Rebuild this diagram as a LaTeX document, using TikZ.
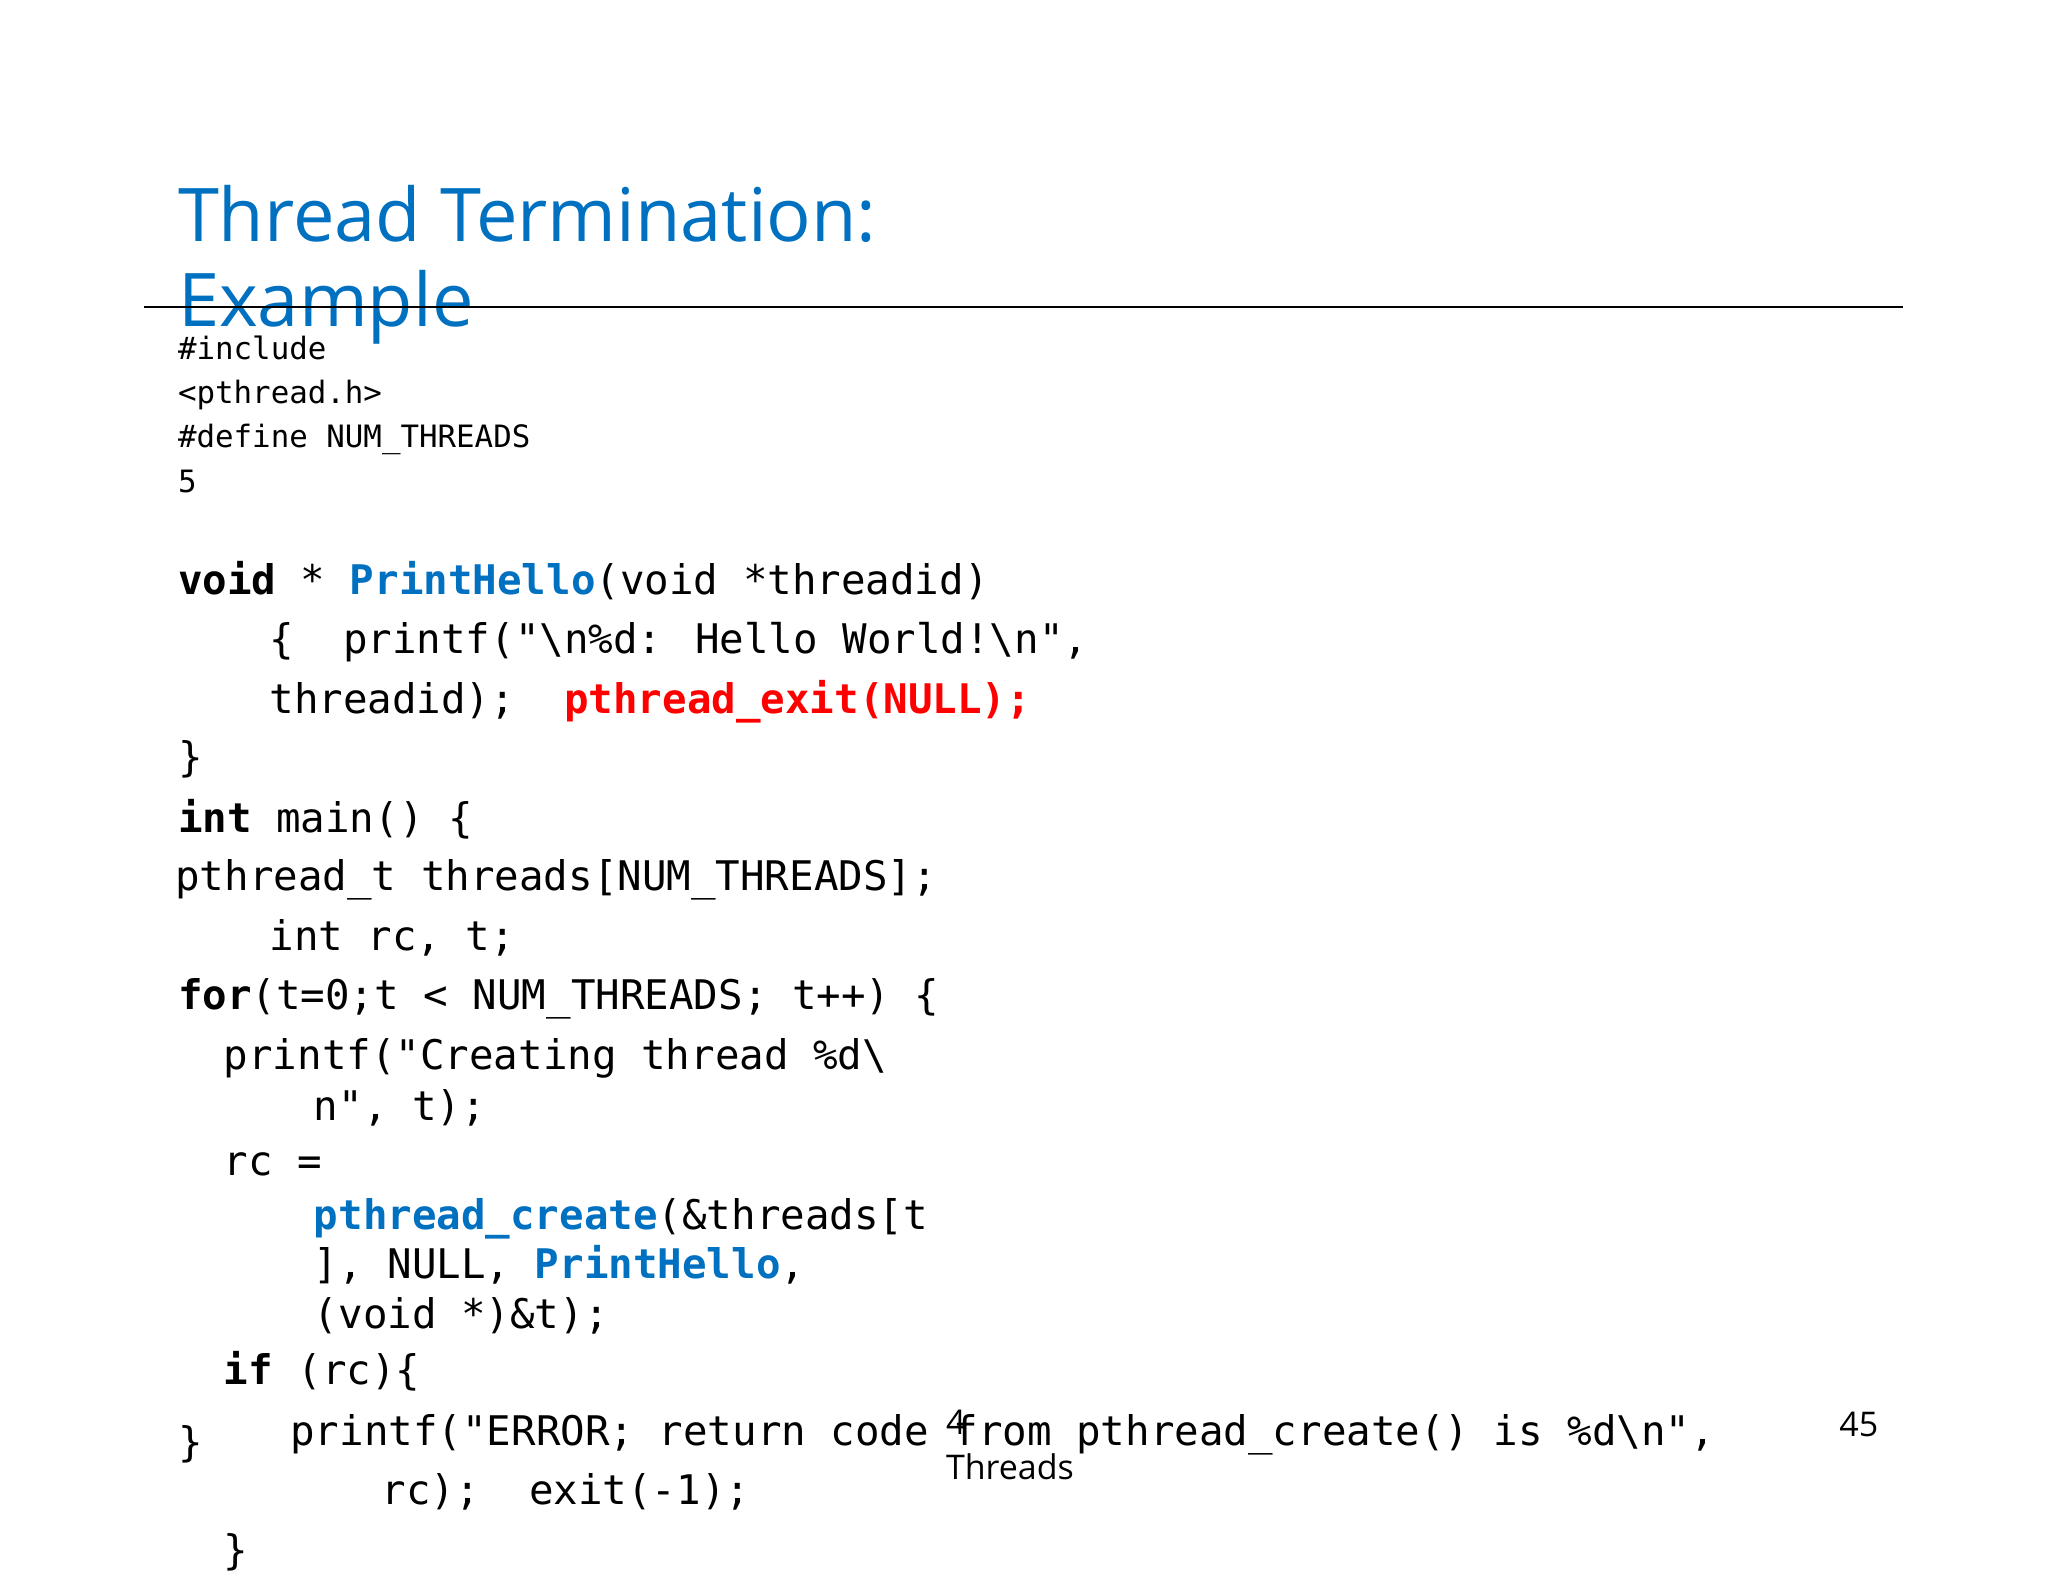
\documentclass[tikz,border=0pt]{standalone}
\usepackage{fontspec}
\setmainfont{Open Sans}
\newfontfamily\code{DejaVu Sans Mono}
\definecolor{tblue}{HTML}{0070C0}
\definecolor{tred}{HTML}{FF0000}
\begin{document}
\begin{tikzpicture}[x=0.653pt,y=-0.653pt,
  t/.style={anchor=base west,inner sep=0pt},
  big/.style={t,font=\code\fontsize{20.4pt}{24pt}\selectfont},
  small/.style={t,font=\code\fontsize{15.4pt}{18pt}\selectfont}]
\useasboundingbox[fill=white] (0,0) rectangle (1568,1211.5);
\node[t,text=tblue,font=\fontsize{37pt}{42pt}\selectfont] (t1) at (136,185) {Thread Termination:};
\node[t,text=tblue,font=\fontsize{37pt}{42pt}\selectfont] (t2) at (136,250) {Example};
\draw[line width=1pt] (110,235) -- (1457,235);
\node[small] (a1) at (136,275) {\#include};
\node[small] (a2) at (136,309) {<pthread.h>};
\node[small] (a3) at (136,343) {\#define NUM\_THREADS};
\node[small] (a4) at (136,377) {5};
\node[big] (b1) at (136,455) {\textbf{void} * \textcolor{tblue}{\textbf{PrintHello}}(void *threadid)};
\node[big] (b2) at (206,500) {\{~ printf("\textbackslash n\%d: Hello World!\textbackslash n",};
\node[big] (b3) at (206,546) {threadid);~ \textcolor{tred}{\textbf{pthread\_exit(NULL);}}};
\node[big] (b4) at (136,591) {\}};
\node[big] (b5) at (136,637) {\textbf{int} main() \{};
\node[big] (b6) at (134,682) {pthread\_t threads[NUM\_THREADS];};
\node[big] (b7) at (206,728) {int rc, t;};
\node[big] (b8) at (136,773) {\textbf{for}(t=0;t < NUM\_THREADS; t++) \{};
\node[big] (b9) at (171,819) {printf("Creating thread \%d\textbackslash};
\node[big] (b10) at (240,858) {n", t);};
\node[big] (b11) at (171,900) {rc =};
\node[big] (b12) at (240,941) {\textcolor{tblue}{\textbf{pthread\_create}}(\&threads[t};
\node[big] (b13) at (240,979) {], NULL, \textcolor{tblue}{\textbf{PrintHello}},};
\node[big] (b14) at (240,1017) {(void *)\&t);};
\node[big] (b15) at (171,1060) {\textbf{if} (rc)\{};
\node[big] (b16) at (136,1115) {\}};
\node[big] (b17) at (222,1107) {printf("ERROR; return code from pthread\_create() is \%d\textbackslash n",};
\node[big] (b18) at (292,1152) {rc);~ exit(-1);};
\node[big] (b19) at (171,1198) {\}};
\node[t,font=\fontsize{17pt}{19pt}\selectfont] (f1) at (724,1098) {4};
\node[t,font=\fontsize{17pt}{19pt}\selectfont] (f2) at (724,1133) {Threads};
\node[t,font=\fontsize{17pt}{19pt}\selectfont] (f3) at (1408,1100) {45};
\end{tikzpicture}
\end{document}
